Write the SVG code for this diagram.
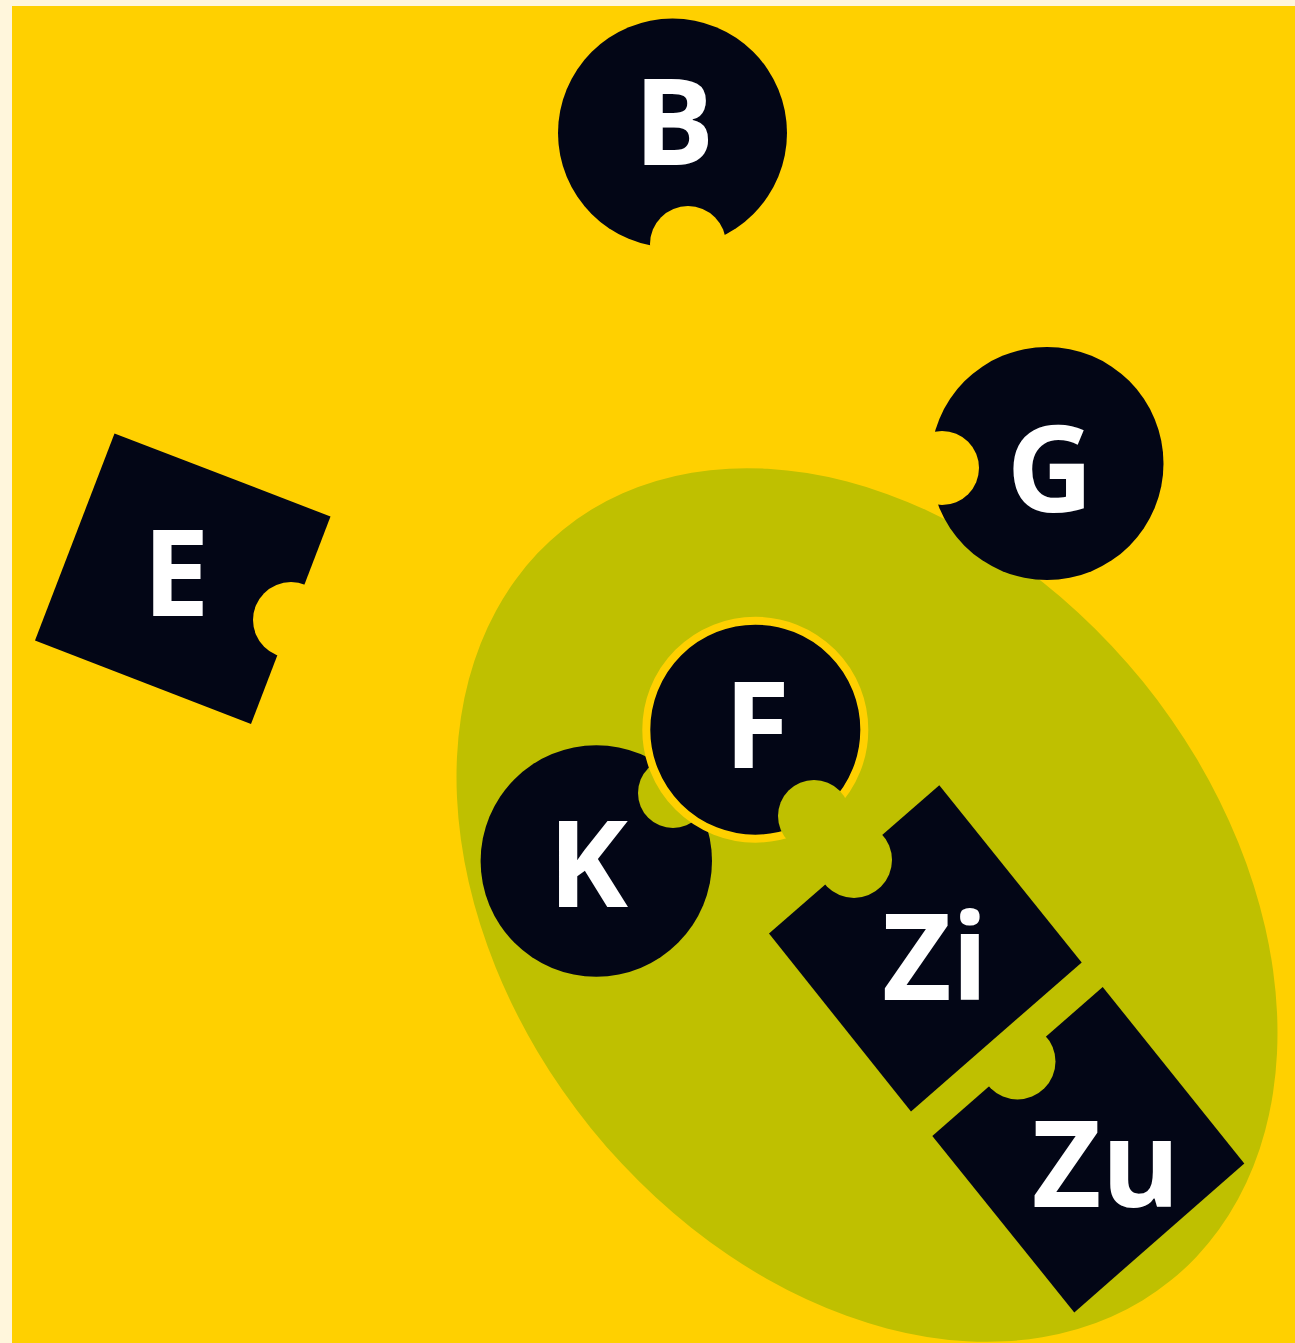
<svg xmlns="http://www.w3.org/2000/svg" width="1295" height="1343" viewBox="0 0 1295 1343">
<style>
.piece{fill:#030616}
.lbl{fill:#ffffff;font-family:"Open Sans","Liberation Sans",sans-serif;font-weight:700;font-size:120px;text-anchor:middle}
</style>
<defs>
<mask id="mB" maskUnits="userSpaceOnUse" x="0" y="0" width="1295" height="1343"><rect width="1295" height="1343" fill="#fff"/><circle cx="688" cy="244" r="38" fill="#000"/></mask>
<mask id="mG" maskUnits="userSpaceOnUse" x="0" y="0" width="1295" height="1343"><rect width="1295" height="1343" fill="#fff"/><circle cx="942" cy="468" r="37" fill="#000"/></mask>
<mask id="mE" maskUnits="userSpaceOnUse" x="0" y="0" width="1295" height="1343"><rect width="1295" height="1343" fill="#fff"/><circle cx="291" cy="620" r="38" fill="#000"/></mask>
<mask id="mK" maskUnits="userSpaceOnUse" x="0" y="0" width="1295" height="1343"><rect width="1295" height="1343" fill="#fff"/><circle cx="673" cy="793" r="35" fill="#000"/></mask>
<mask id="mF" maskUnits="userSpaceOnUse" x="0" y="0" width="1295" height="1343"><rect width="1295" height="1343" fill="#fff"/><circle cx="814" cy="816" r="36" fill="#000"/></mask>
<mask id="mZi" maskUnits="userSpaceOnUse" x="0" y="0" width="1295" height="1343"><rect width="1295" height="1343" fill="#fff"/><circle cx="854" cy="860" r="38" fill="#000"/></mask>
<mask id="mZu" maskUnits="userSpaceOnUse" x="0" y="0" width="1295" height="1343"><rect width="1295" height="1343" fill="#fff"/><circle cx="1017.5" cy="1061.5" r="38" fill="#000"/></mask>
</defs>
<rect width="1295" height="1343" fill="#fff6dc"/>
<rect x="12" y="6" width="1283" height="1337" fill="#ffd000"/>
<ellipse id="cluster" cx="867" cy="905" rx="483" ry="355" transform="rotate(51 867 905)" fill="#bfc000"/>
<g id="connectors"></g>
<g id="B"><circle class="piece" cx="672.5" cy="133" r="114.5" mask="url(#mB)"/><text class="lbl" x="674" y="165">B</text></g>
<g id="G"><circle class="piece" cx="1047" cy="463.5" r="116.5" mask="url(#mG)"/><text class="lbl" x="1050" y="512">G</text></g>
<g id="E"><polygon class="piece" points="114.5,433.5 330.5,516.5 251,724 35,640.5" mask="url(#mE)"/><text class="lbl" x="176" y="616">E</text></g>
<g id="K"><circle class="piece" cx="596.3" cy="861" r="115.7" mask="url(#mK)"/><text class="lbl" x="588" y="907">K</text></g>
<g id="F"><g mask="url(#mF)"><circle cx="755.3" cy="729.7" r="109" fill="#030616" stroke="#ffd000" stroke-width="8"/></g><text class="lbl" x="757" y="768">F</text></g>
<g id="Zi"><polygon class="piece" points="939.3,785.3 1081.7,962.4 911,1111.5 769,933.6" mask="url(#mZi)"/><text class="lbl" x="935" y="1000">Zi</text></g>
<g id="Zu"><polygon class="piece" points="1102.7,987 1244.3,1163.4 1074.3,1312.4 932.3,1136" mask="url(#mZu)"/><text class="lbl" x="1106" y="1207">Zu</text></g>
</svg>
